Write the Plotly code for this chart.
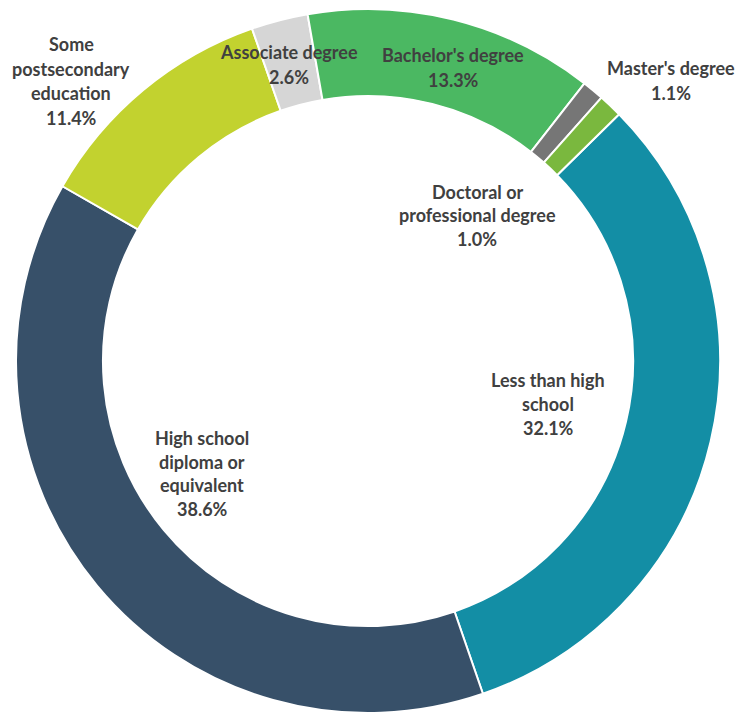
import plotly.graph_objects as go

# Share of adults by highest level of education (percent)
categories = [
    "Less than high school",
    "High school diploma or equivalent",
    "Some postsecondary education",
    "Associate degree",
    "Bachelor's degree",
    "Doctoral or professional degree",
    "Master's degree",
]
shares = [32.1, 38.6, 11.4, 2.6, 13.3, 1.0, 1.1]

colors = ["#138EA5", "#375069", "#C2D22F", "#D6D6D6", "#4BB862", "#767676", "#7AB83E"]

# How each category name wraps onto lines in its label
wrapped = {
    "Less than high school": ["Less than high", "school"],
    "High school diploma or equivalent": ["High school", "diploma or", "equivalent"],
    "Some postsecondary education": ["Some", "postsecondary", "education"],
    "Associate degree": ["Associate degree"],
    "Bachelor's degree": ["Bachelor's degree"],
    "Doctoral or professional degree": ["Doctoral or", "professional degree"],
    "Master's degree": ["Master's degree"],
}

# Label anchor (pixel centre x, first line centre y, line spacing)
label_pos = {
    "Less than high school": (548, 380, 24),
    "High school diploma or equivalent": (202, 438, 23.7),
    "Some postsecondary education": (71, 44, 24.5),
    "Associate degree": (289, 52, 25),
    "Bachelor's degree": (453, 55, 25),
    "Doctoral or professional degree": (477, 192, 23.5),
    "Master's degree": (671, 68, 25),
}

W, H = 736, 713

fig = go.Figure(
    go.Pie(
        labels=categories,
        values=shares,
        sort=False,
        direction="clockwise",
        rotation=45.5,
        hole=0.753,
        marker=dict(colors=colors, line=dict(color="white", width=2)),
        textinfo="none",
        hoverinfo="label+value",
        showlegend=False,
        domain=dict(x=[16 / W, 720 / W], y=[0, 704 / H]),
    )
)

annotations = []
for cat, val in zip(categories, shares):
    lines = wrapped[cat] + [f"{val:.1f}%"]
    cx, cy, step = label_pos[cat]
    for i, line in enumerate(lines):
        y = cy + i * step
        annotations.append(
            dict(
                text=line,
                x=cx / W,
                y=1 - y / H,
                xref="paper",
                yref="paper",
                xanchor="center",
                yanchor="middle",
                showarrow=False,
                font=dict(family="Lato", size=18, color="#404040", weight="bold"),
            )
        )

fig.update_layout(
    width=W,
    height=H,
    margin=dict(l=0, r=0, t=0, b=0),
    paper_bgcolor="white",
    plot_bgcolor="white",
    annotations=annotations,
)

fig.write_html("out.html")
